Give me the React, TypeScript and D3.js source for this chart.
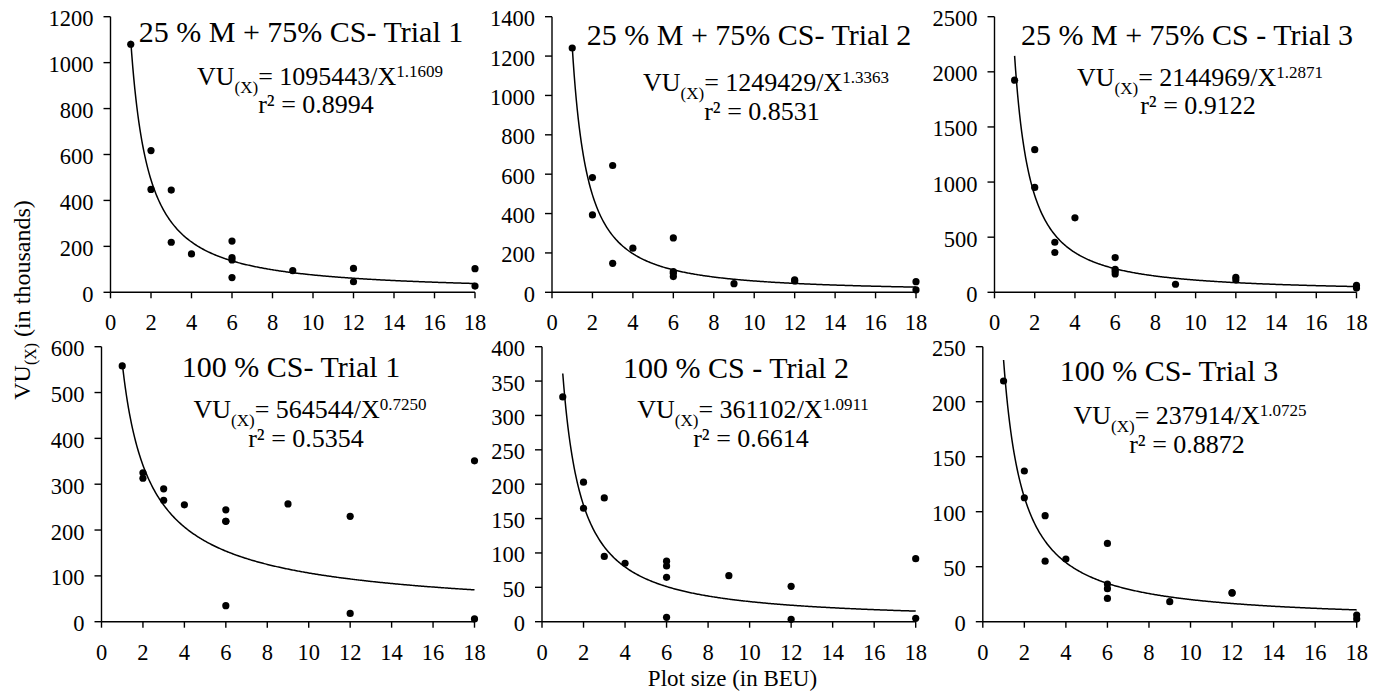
import React from 'react';
import * as d3 from 'd3';

// plot sizes (BEU) and variance per unit area (thousands)
const sizesA = [1, 2, 2, 3, 3, 4, 6, 6, 6, 6, 9, 12, 12, 18, 18];
const vuMix1 = [1080, 617, 448, 445, 218, 167, 223, 151, 141, 64, 94, 104, 46, 103, 27];
const vuMix2 = [1241, 583, 393, 644, 147, 224, 276, 105, 97, 80, 44, 63, 58, 54, 12];
const vuMix3 = [1924, 1294, 951, 454, 361, 676, 315, 209, 190, 167, 73, 136, 112, 62, 38];
const vuCs1 = [558, 325, 313, 290, 265, 255, 244, 219, 219, 35, 257, 230, 18, 351, 6];
const vuCs2 = [327, 203, 165, 180, 95, 85, 88, 81, 64.5, 6.3, 67, 51.4, 3.4, 91.7, 4.9];
const vuCs3 = [218.8, 137, 112.7, 96.4, 55, 57, 71.2, 34.2, 30, 21.2, 18.2, 26.4, 26, 6, 2.5];

const titles = [
  '25 % M + 75% CS- Trial 1',
  '25 % M + 75% CS- Trial 2',
  '25 % M + 75% CS - Trial 3',
  '100 % CS- Trial 1',
  '100 % CS - Trial 2',
  '100 % CS- Trial 3',
];
const coefA = [1095443, 1249429, 2144969, 564544, 361102, 237914];
const expB = ['1.1609', '1.3363', '1.2871', '0.7250', '1.0911', '1.0725'];
const rSquared = ['0.8994', '0.8531', '0.9122', '0.5354', '0.6614', '0.8872'];
const yMax = [1200, 1400, 2500, 600, 400, 250];
const yStep = [200, 200, 500, 100, 50, 50];
const xTicks = [0, 2, 4, 6, 8, 10, 12, 14, 16, 18];

const series = [vuMix1, vuMix2, vuMix3, vuCs1, vuCs2, vuCs3];

// pixel frames of the six pasted charts
const frames = [
  { left: 110.5, right: 475, top: 16.7, bottom: 292.3, tx: 301, ty: 42, ex: 320, ey: 85, rx: 316, ry: 113 },
  { left: 552, right: 916, top: 16.7, bottom: 292.3, tx: 749, ty: 45, ex: 766, ey: 91, rx: 762, ry: 120 },
  { left: 994.5, right: 1356.5, top: 16.7, bottom: 292.3, tx: 1187, ty: 45, ex: 1200, ey: 86, rx: 1198, ry: 114 },
  { left: 101.5, right: 474.5, top: 346.7, bottom: 621.7, tx: 291, ty: 377, ex: 310, ey: 418, rx: 306, ry: 447 },
  { left: 542, right: 915.7, top: 346.7, bottom: 621.7, tx: 736, ty: 378, ex: 753, ey: 418, rx: 751, ry: 447 },
  { left: 982.8, right: 1356.7, top: 346.7, bottom: 621.7, tx: 1169, ty: 381, ex: 1190, ey: 424, rx: 1187, ry: 453 },
];

const font = "'Liberation Serif', 'DejaVu Serif', serif";

function Panel({ i }: { i: number }) {
  const f = frames[i];
  const x = d3.scaleLinear().domain([0, 18]).range([f.left, f.right]);
  const y = d3.scaleLinear().domain([0, yMax[i]]).range([f.bottom, f.top]);
  const yTicks = d3.range(0, yMax[i] + 1, yStep[i]);
  const a = coefA[i] / 1000;
  const b = +expB[i];
  const line = d3.line<number>()
    .x((d) => x(d))
    .y((d) => y(a / Math.pow(d, b)));
  const curveXs = d3.range(1, 18.001, 0.05);

  return (
    <g>
      <line x1={f.left} x2={f.left} y1={f.top} y2={f.bottom} stroke="#000" strokeWidth={1.4} />
      <line x1={f.left} x2={f.right} y1={f.bottom} y2={f.bottom} stroke="#000" strokeWidth={1.4} />
      {yTicks.map((t) => (
        <g key={`y${t}`}>
          <line x1={f.left - 7} x2={f.left} y1={y(t)} y2={y(t)} stroke="#000" strokeWidth={1.4} />
          <text x={f.left - 17} y={y(t) + 9.5} textAnchor="end" fontSize={22.5}>{t}</text>
        </g>
      ))}
      {xTicks.map((t) => (
        <g key={`x${t}`}>
          <line x1={x(t)} x2={x(t)} y1={f.bottom} y2={f.bottom + 6} stroke="#000" strokeWidth={1.4} />
          <text x={x(t)} y={f.bottom + 38} textAnchor="middle" fontSize={22.5}>{t}</text>
        </g>
      ))}
      <path d={line(curveXs) ?? ''} fill="none" stroke="#000" strokeWidth={1.5} />
      {series[i].map((v, k) => (
        <circle key={k} cx={x(sizesA[k])} cy={y(v)} r={3.6} fill="#000" />
      ))}
      <text x={f.tx} y={f.ty} textAnchor="middle" fontSize={30}>{titles[i]}</text>
      <text x={f.ex} y={f.ey} textAnchor="middle" fontSize={26}>
        VU<tspan fontSize={17} dy={8}>(X)</tspan>
        <tspan dy={-8}>= {coefA[i]}/X</tspan>
        <tspan fontSize={17} dy={-8}>{expB[i]}</tspan>
      </text>
      <text x={f.rx} y={f.ry} textAnchor="middle" fontSize={26}>r² = {rSquared[i]}</text>
    </g>
  );
}

export default function App() {
  return (
    <svg
      width={1385}
      height={694}
      style={{ position: 'absolute', left: 0, top: 0, background: '#fff', fontFamily: font }}
      fill="#000"
    >
      <rect width={1385} height={694} fill="#fff" />
      {frames.map((_, i) => <Panel key={i} i={i} />)}
      <text transform="translate(30,300) rotate(-90)" textAnchor="middle" fontSize={24}>
        VU<tspan fontSize={16} dy={6}>(X)</tspan><tspan dy={-6}> (in thousands)</tspan>
      </text>
      <text x={732.5} y={686} textAnchor="middle" fontSize={23}>Plot size (in BEU)</text>
    </svg>
  );
}
